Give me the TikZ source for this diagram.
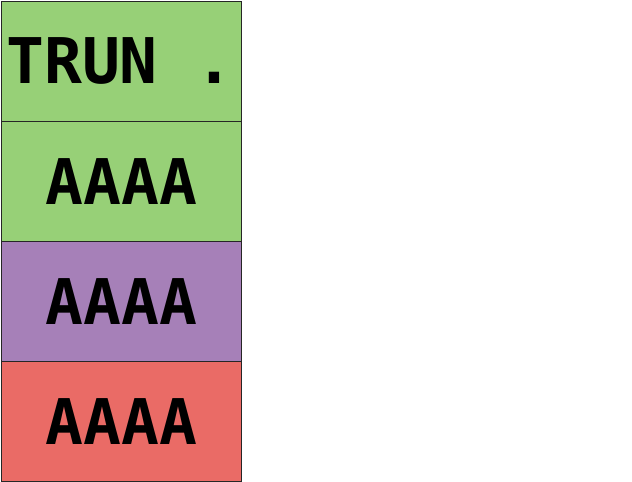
\documentclass[tikz,border=0pt]{standalone}
\usepackage{fontspec}
\setmonofont{DejaVu Sans Mono}
\definecolor{cgreen}{HTML}{97D077}
\definecolor{cpurple}{HTML}{A680B8}
\definecolor{cred}{HTML}{EA6B66}
\begin{document}
\begin{tikzpicture}[x=1pt,y=-1pt,
  txt/.style={font=\fontsize{63}{63}\selectfont\ttfamily\bfseries},
  cell/.style={txt,draw=black!85,line width=1.3pt,minimum width=240pt,minimum height=120pt,inner sep=0pt,anchor=north west}]
\useasboundingbox (0,0) rectangle (632,482);
\node[cell,fill=cgreen] (c1) at (0.8,0.8) {};
\node[txt,anchor=west,inner sep=0pt] (t1) at (6,60.5) {TRUN .};
\node[cell,fill=cgreen] (c2) at (0.8,120.8) {AAAA};
\node[cell,fill=cpurple] (c3) at (0.8,240.8) {AAAA};
\node[cell,fill=cred] (c4) at (0.8,360.8) {AAAA};
\end{tikzpicture}
\end{document}
